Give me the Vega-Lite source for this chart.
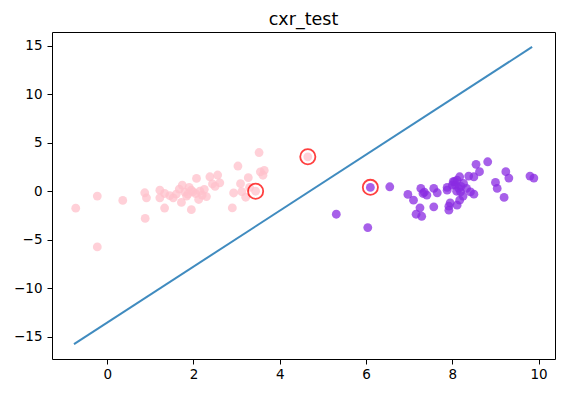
{
  "$schema": "https://vega.github.io/schema/vega-lite/v6.json",
  "width": 503,
  "height": 327,
  "autosize": {"type": "none"},
  "padding": {"left": 52, "top": 32, "right": 9, "bottom": 36},
  "title": {"text": "cxr_test", "font": "DejaVu Sans", "fontSize": 17.5, "fontWeight": "normal", "color": "black", "offset": 1, "baseline": "bottom", "dy": 15},
  "config": {
    "view": {"stroke": "black", "strokeWidth": 1},
    "font": "DejaVu Sans",
    "axis": {"grid": false, "domain": false, "tickColor": "black", "tickSize": 5, "tickWidth": 1, "labelFont": "DejaVu Sans", "labelFontSize": 13.5, "labelColor": "black", "title": null}
  },
  "datasets": {
    "pts": [
      {"x": -0.73, "y": -1.75, "cls": "0"}, {"x": -0.23, "y": -0.5, "cls": "0"}, {"x": -0.23, "y": -5.74, "cls": "0"},
      {"x": 0.36, "y": -0.95, "cls": "0"}, {"x": 0.87, "y": -0.16, "cls": "0"}, {"x": 0.91, "y": -0.68, "cls": "0"},
      {"x": 0.88, "y": -2.8, "cls": "0"}, {"x": 1.22, "y": 0.11, "cls": "0"}, {"x": 1.22, "y": -0.68, "cls": "0"},
      {"x": 1.33, "y": -0.23, "cls": "0"}, {"x": 1.33, "y": -1.73, "cls": "0"}, {"x": 1.53, "y": -0.68, "cls": "0"},
      {"x": 1.67, "y": 0.22, "cls": "0"}, {"x": 1.74, "y": 0.63, "cls": "0"}, {"x": 1.72, "y": -1.15, "cls": "0"},
      {"x": 1.8, "y": -0.1, "cls": "0"}, {"x": 1.84, "y": -0.5, "cls": "0"}, {"x": 1.9, "y": 0.4, "cls": "0"},
      {"x": 1.95, "y": -1.9, "cls": "0"}, {"x": 1.87, "y": -0.3, "cls": "0"}, {"x": 1.99, "y": -0.06, "cls": "0"},
      {"x": 2.07, "y": 1.32, "cls": "0"}, {"x": 2.05, "y": -0.25, "cls": "0"}, {"x": 2.15, "y": 0.0, "cls": "0"},
      {"x": 2.12, "y": -0.85, "cls": "0"}, {"x": 2.25, "y": 0.2, "cls": "0"}, {"x": 2.3, "y": -0.55, "cls": "0"},
      {"x": 2.38, "y": 1.49, "cls": "0"}, {"x": 2.44, "y": 0.75, "cls": "0"}, {"x": 2.56, "y": 1.67, "cls": "0"},
      {"x": 2.61, "y": 0.87, "cls": "0"}, {"x": 2.5, "y": 0.5, "cls": "0"}, {"x": 2.9, "y": -1.72, "cls": "0"},
      {"x": 2.93, "y": -0.18, "cls": "0"}, {"x": 3.03, "y": 2.6, "cls": "0"}, {"x": 3.09, "y": 0.78, "cls": "0"},
      {"x": 3.27, "y": 1.4, "cls": "0"}, {"x": 3.21, "y": -0.62, "cls": "0"}, {"x": 3.12, "y": -0.05, "cls": "0"},
      {"x": 3.52, "y": 3.99, "cls": "0"}, {"x": 3.55, "y": 2.0, "cls": "0"}, {"x": 3.64, "y": 2.15, "cls": "0"},
      {"x": 3.61, "y": 1.65, "cls": "0"}, {"x": 3.44, "y": 0.0, "cls": "0"}, {"x": 4.65, "y": 3.55, "cls": "0"},
      {"x": 1.6, "y": -0.3, "cls": "0"}, {"x": 1.95, "y": 0.1, "cls": "0"}, {"x": 2.2, "y": -0.4, "cls": "0"},
      {"x": 1.45, "y": -0.45, "cls": "0"}, {"x": 3.3, "y": 0.4, "cls": "0"},
      {"x": 6.1, "y": 0.39, "cls": "1"}, {"x": 6.55, "y": 0.46, "cls": "1"}, {"x": 5.31, "y": -2.37, "cls": "1"},
      {"x": 6.04, "y": -3.75, "cls": "1"}, {"x": 6.97, "y": -0.33, "cls": "1"}, {"x": 7.1, "y": -0.92, "cls": "1"},
      {"x": 7.25, "y": -1.71, "cls": "1"}, {"x": 7.16, "y": -2.37, "cls": "1"}, {"x": 7.29, "y": -2.58, "cls": "1"},
      {"x": 7.27, "y": 0.29, "cls": "1"}, {"x": 7.32, "y": -0.23, "cls": "1"}, {"x": 7.41, "y": -0.4, "cls": "1"},
      {"x": 7.57, "y": 0.29, "cls": "1"}, {"x": 7.65, "y": -0.16, "cls": "1"}, {"x": 7.57, "y": -1.61, "cls": "1"},
      {"x": 7.88, "y": 0.39, "cls": "1"}, {"x": 7.88, "y": 0.11, "cls": "1"}, {"x": 7.92, "y": -1.54, "cls": "1"},
      {"x": 7.92, "y": -1.95, "cls": "1"}, {"x": 8.02, "y": 0.98, "cls": "1"}, {"x": 8.07, "y": 0.63, "cls": "1"},
      {"x": 8.11, "y": 1.15, "cls": "1"}, {"x": 8.15, "y": 0.29, "cls": "1"}, {"x": 8.17, "y": 1.49, "cls": "1"},
      {"x": 8.19, "y": -0.06, "cls": "1"}, {"x": 8.11, "y": -1.44, "cls": "1"}, {"x": 8.17, "y": -0.92, "cls": "1"},
      {"x": 8.26, "y": 0.8, "cls": "1"}, {"x": 8.33, "y": 0.29, "cls": "1"}, {"x": 8.42, "y": -0.06, "cls": "1"},
      {"x": 8.38, "y": 1.56, "cls": "1"}, {"x": 8.5, "y": 1.49, "cls": "1"}, {"x": 8.5, "y": -0.3, "cls": "1"},
      {"x": 8.55, "y": 2.77, "cls": "1"}, {"x": 8.63, "y": 2.01, "cls": "1"}, {"x": 8.82, "y": 3.04, "cls": "1"},
      {"x": 9.0, "y": 0.91, "cls": "1"}, {"x": 9.04, "y": 0.29, "cls": "1"}, {"x": 9.2, "y": -0.64, "cls": "1"},
      {"x": 9.24, "y": 2.01, "cls": "1"}, {"x": 9.31, "y": 1.36, "cls": "1"}, {"x": 9.8, "y": 1.56, "cls": "1"},
      {"x": 9.89, "y": 1.36, "cls": "1"}, {"x": 8.0, "y": 0.63, "cls": "1"}, {"x": 8.1, "y": 0.0, "cls": "1"},
      {"x": 8.2, "y": 0.5, "cls": "1"}, {"x": 7.95, "y": -1.2, "cls": "1"}, {"x": 8.05, "y": 1.0, "cls": "1"},
      {"x": 7.35, "y": -0.1, "cls": "1"}, {"x": 8.25, "y": -0.5, "cls": "1"}
    ],
    "line": [{"x": -0.77, "y": -15.77}, {"x": 9.85, "y": 14.88}],
    "sv": [{"x": 3.44, "y": 0.0}, {"x": 4.65, "y": 3.55}, {"x": 6.1, "y": 0.4}]
  },
  "layer": [
    {
      "data": {"name": "pts"},
      "mark": {"type": "point", "filled": true, "size": 78, "opacity": 0.75, "strokeWidth": 0},
      "encoding": {
        "x": {"field": "x", "type": "quantitative", "scale": {"domain": [-1.28, 10.38], "nice": false, "zero": false}, "axis": {"values": [0, 2, 4, 6, 8, 10], "labelPadding": 3}},
        "y": {"field": "y", "type": "quantitative", "scale": {"domain": [-17.3, 16.42], "nice": false, "zero": false}, "axis": {"values": [-15, -10, -5, 0, 5, 10, 15], "labelPadding": 5}},
        "color": {"field": "cls", "type": "nominal", "scale": {"domain": ["0", "1"], "range": ["pink", "blueviolet"]}, "legend": null}
      }
    },
    {
      "data": {"name": "line"},
      "mark": {"type": "line", "color": "#1f77b4", "strokeWidth": 2, "opacity": 0.85},
      "encoding": {
        "x": {"field": "x", "type": "quantitative"},
        "y": {"field": "y", "type": "quantitative"}
      }
    },
    {
      "data": {"name": "sv"},
      "mark": {"type": "point", "filled": false, "stroke": "red", "size": 230, "strokeWidth": 1.8, "opacity": 0.75},
      "encoding": {
        "x": {"field": "x", "type": "quantitative"},
        "y": {"field": "y", "type": "quantitative"}
      }
    }
  ]
}
